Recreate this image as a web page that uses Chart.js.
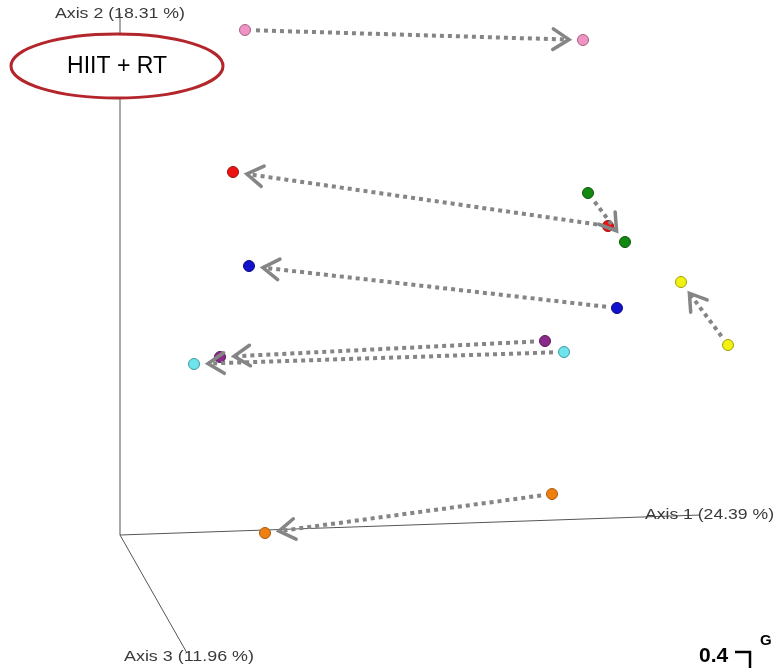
<!DOCTYPE html>
<html>
<head>
<meta charset="utf-8">
<script src="https://cdn.jsdelivr.net/npm/chart.js@4/dist/chart.umd.min.js"></script>
<style>
  html, body { margin: 0; padding: 0; background: #fff; }
  #wrap { width: 775px; height: 668px; }
</style>
</head>
<body>
<div id="wrap"><canvas id="pcoa"></canvas></div>
<script>
// projected PCoA coordinates (screen plane), before -> after
const groups = ["pink", "red", "green", "blue", "purple", "cyan", "yellow", "orange"];
const startX = [245, 608, 588, 617, 545, 564, 728, 552];
const startY = [30, 226, 193, 308, 341, 352, 345, 494];
const endX = [583, 233, 625, 249, 220, 194, 681, 265];
const endY = [40, 172, 242, 266, 357, 364, 282, 533];
const fillColors = ["#ee93c4", "#ee1111", "#128a12", "#1212cc", "#8a2a8a", "#70e4ec", "#f2f212", "#f07f12"];
const edgeColors = ["#a8607f", "#991010", "#0b520b", "#0a0a80", "#551a55", "#3f9aa0", "#a0a000", "#a85a0c"];

// axis lines of the 3D frame, origin first
const axisOrigin = [120, 535];
const axis1End = [700, 515];
const axis2End = [120, 13];
const axis3End = [187, 653];
const axisLabels = ["Axis 1 (24.39 %)", "Axis 2 (18.31 %)", "Axis 3 (11.96 %)"];

const datasets = [];

[axis1End, axis2End, axis3End].forEach((end) => {
  datasets.push({
    type: "line",
    data: [{ x: axisOrigin[0], y: axisOrigin[1] }, { x: end[0], y: end[1] }],
    borderColor: "#555",
    borderWidth: 1,
    pointRadius: 0,
    order: 3,
  });
});

groups.forEach((g, i) => {
  datasets.push({
    label: g,
    data: [
      { x: startX[i], y: startY[i] },
      { x: endX[i], y: endY[i] },
    ],
    backgroundColor: fillColors[i],
    borderColor: edgeColors[i],
    borderWidth: 1,
    pointRadius: 5.5,
    order: 1,
  });
});

// dotted grey arrows between each group's two points
const arrowPlugin = {
  id: "arrows",
  afterDatasetsDraw(chart) {
    const ctx = chart.ctx;
    ctx.save();
    chart.data.datasets.forEach((ds, di) => {
      if (!ds.label) return;
      const pts = chart.getDatasetMeta(di).data;
      const a = pts[0], b = pts[1];
      const dx = b.x - a.x, dy = b.y - a.y;
      const len = Math.hypot(dx, dy);
      const ux = dx / len, uy = dy / len;
      const sx = a.x + ux * 11, sy = a.y + uy * 11;
      const tx = b.x - ux * 14, ty = b.y - uy * 14;
      ctx.strokeStyle = "#858585";
      ctx.lineWidth = 4;
      ctx.setLineDash([4, 4]);
      ctx.beginPath();
      ctx.moveTo(sx, sy);
      ctx.lineTo(tx, ty);
      ctx.stroke();
      ctx.setLineDash([]);
      ctx.lineWidth = 3.5;
      ctx.lineCap = "round";
      const head = 19, ang = Math.PI / 5.5;
      const base = Math.atan2(uy, ux);
      ctx.beginPath();
      ctx.moveTo(tx - head * Math.cos(base - ang), ty - head * Math.sin(base - ang));
      ctx.lineTo(tx, ty);
      ctx.lineTo(tx - head * Math.cos(base + ang), ty - head * Math.sin(base + ang));
      ctx.stroke();
      ctx.lineCap = "butt";
    });
    ctx.restore();
  },
};

function wideText(ctx, text, x, y, width) {
  const w = ctx.measureText(text).width;
  ctx.save();
  ctx.translate(x, y);
  ctx.scale(width / w, 1);
  ctx.fillText(text, 0, 0);
  ctx.restore();
}

// axis titles, the group ellipse and the corner label
const labelPlugin = {
  id: "labels",
  afterDraw(chart) {
    const ctx = chart.ctx;
    const xs = chart.scales.x, ys = chart.scales.y;
    ctx.save();
    ctx.fillStyle = "#3a3a3a";
    ctx.font = "14px 'Liberation Sans', Arial, sans-serif";
    ctx.textBaseline = "middle";
    ctx.textAlign = "left";
    wideText(ctx, axisLabels[0], xs.getPixelForValue(645), ys.getPixelForValue(515), 129);
    wideText(ctx, axisLabels[1], xs.getPixelForValue(55), ys.getPixelForValue(14), 130);
    wideText(ctx, axisLabels[2], xs.getPixelForValue(124), ys.getPixelForValue(657), 130);

    // ellipse
    const cx = xs.getPixelForValue(117), cy = ys.getPixelForValue(66);
    ctx.beginPath();
    ctx.ellipse(cx, cy, 106, 32, 0, 0, Math.PI * 2);
    ctx.fillStyle = "#fff";
    ctx.fill();
    ctx.strokeStyle = "#b3262c";
    ctx.lineWidth = 3;
    ctx.stroke();
    ctx.fillStyle = "#000";
    ctx.font = "23px 'Liberation Sans', Arial, sans-serif";
    ctx.textAlign = "center";
    ctx.fillText("HIIT + RT", cx, cy + 1);

    // corner scale text
    ctx.font = "bold 21px 'Liberation Sans', Arial, sans-serif";
    ctx.textAlign = "left";
    ctx.fillText("0.4", 699, 656);
    ctx.font = "bold 15px 'Liberation Sans', Arial, sans-serif";
    ctx.fillText("G", 760, 641);
    ctx.strokeStyle = "#000";
    ctx.lineWidth = 2.5;
    ctx.beginPath();
    ctx.moveTo(735, 652);
    ctx.lineTo(750, 652);
    ctx.lineTo(750, 668);
    ctx.stroke();
    ctx.restore();
  },
};

new Chart(document.getElementById("pcoa"), {
  type: "scatter",
  data: { datasets },
  options: {
    responsive: true,
    maintainAspectRatio: false,
    animation: false,
    layout: { padding: 0, autoPadding: false },
    plugins: { legend: { display: false }, tooltip: { enabled: false } },
    scales: {
      x: { type: "linear", min: 0, max: 775, display: false },
      y: { type: "linear", min: 0, max: 668, reverse: true, display: false },
    },
  },
  plugins: [arrowPlugin, labelPlugin],
});
</script>
</body>
</html>
